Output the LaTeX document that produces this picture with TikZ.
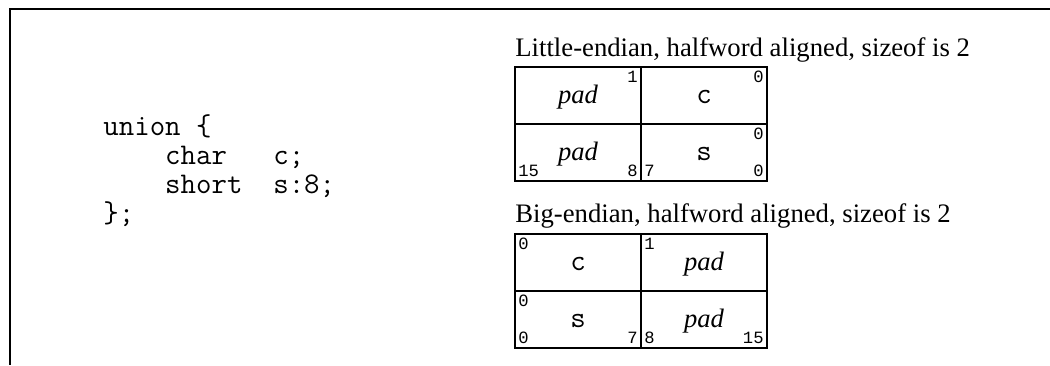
\documentclass[tikz,border=0pt]{standalone}
\usepackage{fontspec}
\setmainfont{Liberation Serif}
\newfontfamily\bitfont{Liberation Mono}
\usetikzlibrary{positioning}

\tikzset{
  cell/.style={draw, line width=1pt, inner sep=0pt, outer sep=0pt,
    minimum width=63pt, minimum height=28.5pt,
    text height=10pt, text depth=2.5pt, font=\fontsize{13.3}{13.3}\selectfont},
  bitno/.style={inner xsep=1.5pt, inner ysep=2pt,
    font=\fontsize{8.6}{8.6}\selectfont\bitfont},
  codeline/.style={anchor=base west, inner sep=0pt,
    font=\fontsize{15}{15}\selectfont\ttfamily},
  caption/.style={anchor=base west, inner sep=0pt,
    font=\fontsize{13.35}{13.35}\selectfont}
}
\newcommand{\cellcode}[1]{{\fontsize{15}{15}\selectfont\ttfamily #1}}

\begin{document}
\begin{tikzpicture}[x=0.5pt,y=0.5pt,yscale=-1,xscale=1]
\useasboundingbox (0,0) rectangle (1050,365);

%Shape: Frame
\coordinate (frametop) at (1050,9);
\coordinate (framecorner) at (10,9);
\coordinate (framebottom) at (10,365);
\draw [line width=1pt] (frametop) -- (framecorner) -- (framebottom);

% Text Node: code
\node [codeline] (code1) at (103,135) {union \{};
\node [codeline] (code2) at (103,164) {~~~~char~~~c;};
\node [codeline] (code3) at (103,193) {~~~~short~~s:8;};
\node [codeline] (code4) at (103,222) {\};};

% Text Node: little-endian caption
\node [caption] (lecap) at (515,56.5) {Little-endian, halfword aligned, sizeof is 2};

%Shape: little-endian cells
\node [cell] (lepadhi) at (578,95.5) {\textit{pad}};
\node [cell, right=0pt of lepadhi] (lec) {\cellcode{c}};
\node [cell, below=0pt of lepadhi] (lepadlo) {\textit{pad}};
\node [cell, right=0pt of lepadlo] (les) {\cellcode{s}};

% Text Node: little-endian bit numbers
\node [bitno, anchor=north east] (lepadhi1) at (lepadhi.north east) {1};
\node [bitno, anchor=north east] (lec0) at (lec.north east) {0};
\node [bitno, anchor=south west] (lepadlo15) at (lepadlo.south west) {15};
\node [bitno, anchor=south east] (lepadlo8) at (lepadlo.south east) {8};
\node [bitno, anchor=north east] (les0hi) at (les.north east) {0};
\node [bitno, anchor=south west] (les7) at (les.south west) {7};
\node [bitno, anchor=south east] (les0lo) at (les.south east) {0};

% Text Node: big-endian caption
\node [caption] (becap) at (515,222) {Big-endian, halfword aligned, sizeof is 2};

%Shape: big-endian cells
\node [cell] (bec) at (578,262.5) {\cellcode{c}};
\node [cell, right=0pt of bec] (bepadhi) {\textit{pad}};
\node [cell, below=0pt of bec] (bes) {\cellcode{s}};
\node [cell, right=0pt of bes] (bepadlo) {\textit{pad}};

% Text Node: big-endian bit numbers
\node [bitno, anchor=north west] (bec0) at (bec.north west) {0};
\node [bitno, anchor=north west] (bepadhi1) at (bepadhi.north west) {1};
\node [bitno, anchor=north west] (bes0hi) at (bes.north west) {0};
\node [bitno, anchor=south west] (bes0lo) at (bes.south west) {0};
\node [bitno, anchor=south east] (bes7) at (bes.south east) {7};
\node [bitno, anchor=south west] (bepadlo8) at (bepadlo.south west) {8};
\node [bitno, anchor=south east] (bepadlo15) at (bepadlo.south east) {15};

\end{tikzpicture}
\end{document}
